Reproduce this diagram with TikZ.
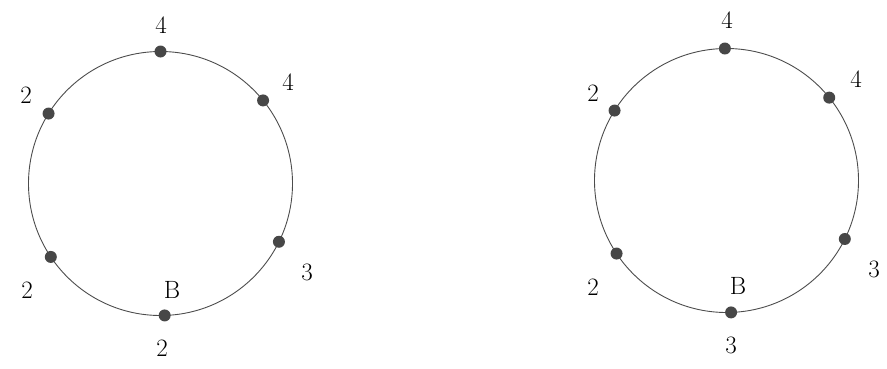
\documentclass[tikz,border=0pt]{standalone}
\usetikzlibrary{calc}
\begin{document}
\begin{tikzpicture}[x=1pt,y=1pt,
  ring/.style={draw=black!70,line width=0.9pt},
  pt/.style={circle,fill=black!72,inner sep=0pt,minimum size=12pt},
  lab/.style={inner sep=0pt,font=\fontsize{25}{30}\selectfont}]
\useasboundingbox (0,0) rectangle (887,368);
% left circle
\coordinate (cL) at (160.5,184.5);
\draw[ring] (cL) circle (132);
\node[pt] (L1) at ($(cL)+(90:132)$) {};
\node[pt] (L2) at ($(cL)+(39:132)$) {};
\node[pt] (L3) at ($(cL)+(148:132)$) {};
\node[pt] (L4) at ($(cL)+(213.8:132)$) {};
\node[pt] (L5) at ($(cL)+(-26.2:132)$) {};
\node[pt] (L6) at ($(cL)+(-88.2:132)$) {};
\node[lab] (lL1) at (161,343) {4};
\node[lab] (lL2) at (288,286) {4};
\node[lab] (lL3) at (26,273) {2};
\node[lab] (lL4) at (27,78) {2};
\node[lab] (lL5) at (307,96) {3};
\node[lab] (lLB) at (172,78) {B};
\node[lab] (lL6) at (162,20) {2};
% right circle
\coordinate (cR) at (726.5,187.5);
\draw[ring] (cR) circle (132);
\node[pt] (R1) at ($(cR)+(90.7:132)$) {};
\node[pt] (R2) at ($(cR)+(38.9:132)$) {};
\node[pt] (R3) at ($(cR)+(148:132)$) {};
\node[pt] (R4) at ($(cR)+(213.6:132)$) {};
\node[pt] (R5) at ($(cR)+(-26.3:132)$) {};
\node[pt] (R6) at ($(cR)+(-88:132)$) {};
\node[lab] (lR1) at (727,348) {4};
\node[lab] (lR2) at (856,289) {4};
\node[lab] (lR3) at (593,275) {2};
\node[lab] (lR4) at (593,81) {2};
\node[lab] (lR5) at (874,99) {3};
\node[lab] (lRB) at (738,82) {B};
\node[lab] (lR6) at (731,23) {3};
\end{tikzpicture}
\end{document}
